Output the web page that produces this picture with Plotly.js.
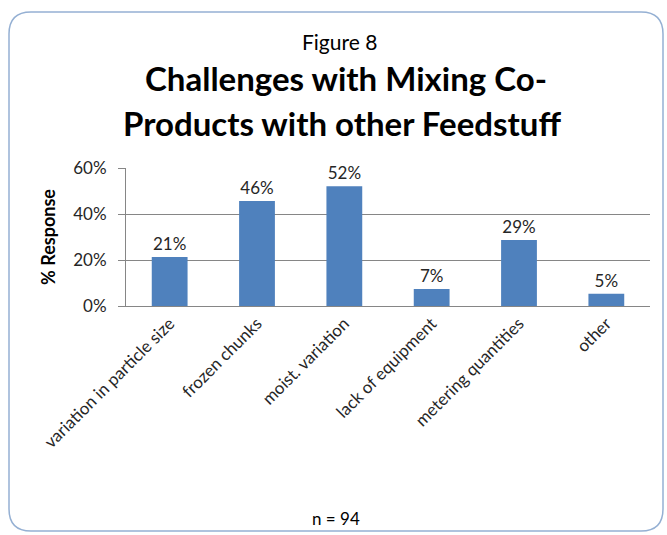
<!DOCTYPE html>
<html>
<head>
<meta charset="utf-8">
<script src="https://cdn.plot.ly/plotly-3.0.1.min.js"></script>
<style>html,body{margin:0;padding:0;background:#fff;}#chart{width:667px;height:535px;}</style>
</head>
<body>
<div id="chart"></div>
<script>
const categories = ["variation in particle size", "frozen chunks", "moist. variation", "lack of equipment", "metering quantities", "other"];
const responses = [21.3, 45.7, 52.1, 7.4, 28.7, 5.3];
const yTickValues = [0, 20, 40, 60];
const yTickLabels = ["0%", "20%", "40%", "60%"];
const figureLabel = "Figure 8";
const titleLine1 = "Challenges with Mixing Co-";
const titleLine2 = "Products with other Feedstuff";
const sampleNote = "n = 94";

const FONT = "Lato, 'Open Sans', sans-serif";
const W = 667, H = 535;
const M = {l: 126, r: 17, t: 168, b: 229};
const pw = W - M.l - M.r, ph = H - M.t - M.b;
const px = v => (v - M.l) / pw;
const py = v => (H - M.b - v) / ph;

// rounded border path in paper coords
const bx0 = px(9), bx1 = px(663), by0 = py(531), by1 = py(12);
const rx = 22 / pw, ry = 22 / ph;
const borderPath = `M ${bx0 + rx} ${by1} L ${bx1 - rx} ${by1} Q ${bx1} ${by1} ${bx1} ${by1 - ry} ` +
  `L ${bx1} ${by0 + ry} Q ${bx1} ${by0} ${bx1 - rx} ${by0} L ${bx0 + rx} ${by0} ` +
  `Q ${bx0} ${by0} ${bx0} ${by0 + ry} L ${bx0} ${by1 - ry} Q ${bx0} ${by1} ${bx0 + rx} ${by1} Z`;

const trace = {
  type: "bar",
  x: categories,
  y: responses,
  marker: {color: "#4f81bd"},
  text: responses.map(v => Math.round(v) + "%"),
  textposition: "outside",
  textfont: {family: FONT, size: 17, color: "#262626"},
  cliponaxis: false,
  hoverinfo: "none"
};

const layout = {
  width: W, height: H,
  margin: M,
  paper_bgcolor: "#fff",
  plot_bgcolor: "#fff",
  showlegend: false,
  bargap: 0.59,
  font: {family: FONT, color: "#262626"},
  xaxis: {
    type: "category",
    tickangle: -45,
    tickfont: {family: FONT, size: 17, color: "#262626"},
    showline: true, linecolor: "#868686", linewidth: 1,
    ticks: "", showgrid: false, zeroline: false,
    fixedrange: true
  },
  yaxis: {
    range: [0, 60],
    tickvals: yTickValues,
    ticktext: yTickLabels,
    tickfont: {family: FONT, size: 17, color: "#262626"},
    showline: true, linecolor: "#868686", linewidth: 1,
    ticks: "outside", ticklen: 7, tickcolor: "#868686",
    ticklabelstandoff: 8,
    showgrid: true, gridcolor: "#868686", gridwidth: 1,
    zeroline: false,
    title: {text: "<b>% Response</b>", font: {family: FONT, size: 18, color: "#000"}, standoff: 12},
    fixedrange: true
  },
  shapes: [{
    type: "path", xref: "paper", yref: "paper", path: borderPath,
    line: {color: "#95b0d3", width: 1.5}, fillcolor: "rgba(0,0,0,0)", layer: "below"
  }],
  annotations: [
    {text: figureLabel, xref: "paper", yref: "paper", x: px(339), y: py(42), showarrow: false,
     xanchor: "center", yanchor: "middle", font: {family: FONT, size: 21, color: "#000"}},
    {text: "<b>" + titleLine1 + "</b>", xref: "paper", yref: "paper", x: px(346), y: py(78), showarrow: false,
     xanchor: "center", yanchor: "middle", font: {family: FONT, size: 33, color: "#000"}},
    {text: "<b>" + titleLine2 + "</b>", xref: "paper", yref: "paper", x: px(342), y: py(123), showarrow: false,
     xanchor: "center", yanchor: "middle", font: {family: FONT, size: 33, color: "#000"}},
    {text: sampleNote, xref: "paper", yref: "paper", x: px(336), y: py(518), showarrow: false,
     xanchor: "center", yanchor: "middle", font: {family: FONT, size: 17, color: "#000"}}
  ]
};

Plotly.newPlot("chart", [trace], layout, {staticPlot: true, displayModeBar: false});
</script>
</body>
</html>
